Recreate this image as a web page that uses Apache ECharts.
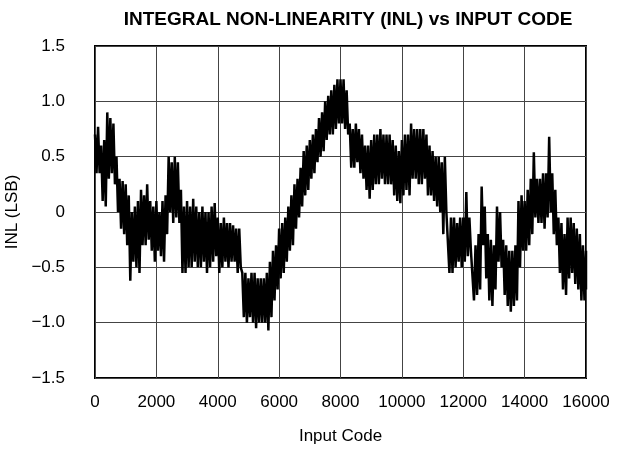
<!DOCTYPE html>
<html>
<head>
<meta charset="utf-8">
<script src="https://cdn.jsdelivr.net/npm/echarts@6/dist/echarts.min.js"></script>
<style>html,body{margin:0;padding:0;background:#fff;}#c{width:626px;height:449px;}</style>
</head>
<body>
<div id="c"></div>
<script>
// Sample grid: input codes 0..16000, step 100
const codeStart = 0, codeStep = 100;
// Upper envelope of the INL trace (LSB), one value per 100 codes
const inlHigh = [
  0.70, 0.77, 0.60, 0.65, 0.90, 0.85, 0.80, 0.50, 0.30, 0.28,
  0.25, 0.15, 0.00, 0.05, 0.10, 0.20, 0.15, 0.25, 0.10, 0.05,
  0.10, 0.00, 0.10, 0.15, 0.50, 0.45, 0.50, 0.45, 0.20, 0.05,
  0.10, 0.05, 0.12, 0.05, 0.00, 0.05, 0.00, 0.00, 0.05, 0.08,
  -0.05, -0.10, -0.05, -0.10, -0.10, -0.12, -0.15, -0.15, -0.55, -0.55,
  -0.60, -0.55, -0.55, -0.60, -0.60, -0.60, -0.55, -0.45, -0.35, -0.30,
  -0.15, -0.10, -0.05, 0.05, 0.15, 0.25, 0.30, 0.40, 0.55, 0.60,
  0.65, 0.70, 0.75, 0.85, 0.90, 1.00, 1.05, 1.10, 1.15, 1.20,
  1.20, 1.20, 1.10, 0.80, 0.75, 0.80, 0.75, 0.70, 0.60, 0.60,
  0.65, 0.70, 0.70, 0.75, 0.70, 0.70, 0.70, 0.65, 0.60, 0.55,
  0.65, 0.70, 0.70, 0.80, 0.75, 0.75, 0.75, 0.75, 0.70, 0.60,
  0.55, 0.50, 0.50, 0.45, 0.50, 0.00, -0.05, -0.05, -0.10, -0.05,
  -0.05, 0.18, -0.05, -0.35, -0.30, -0.20, 0.23, 0.05, -0.20, -0.25,
  -0.30, 0.05, 0.00, -0.25, -0.30, -0.35, -0.35, -0.30, 0.10, 0.15,
  0.10, 0.20, 0.30, 0.54, 0.30, 0.30, 0.35, 0.35, 0.68, 0.35,
  0.20, -0.05, -0.10, -0.20, -0.05, -0.05, -0.10, -0.15, -0.20, -0.30,
  -0.35
];
// Lower envelope of the INL trace (LSB)
const inlLow = [
  0.35, 0.35, 0.10, 0.05, 0.30, 0.35, 0.25, 0.00, -0.15, -0.20,
  -0.30, -0.62, -0.45, -0.50, -0.55, -0.30, -0.30, -0.25, -0.35, -0.45,
  -0.35, -0.40, -0.45, -0.20, 0.00, -0.10, -0.05, -0.10, -0.55, -0.55,
  -0.50, -0.50, -0.45, -0.50, -0.50, -0.45, -0.55, -0.50, -0.45, -0.40,
  -0.55, -0.50, -0.45, -0.50, -0.45, -0.45, -0.55, -0.50, -0.95, -1.00,
  -0.95, -1.00, -1.05, -1.00, -1.00, -1.00, -1.07, -0.95, -0.80, -0.70,
  -0.60, -0.55, -0.45, -0.35, -0.30, -0.15, -0.05, 0.05, 0.15, 0.20,
  0.30, 0.35, 0.45, 0.50, 0.55, 0.65, 0.70, 0.70, 0.75, 0.80,
  0.80, 0.75, 0.70, 0.40, 0.40, 0.45, 0.35, 0.30, 0.20, 0.12,
  0.20, 0.25, 0.25, 0.30, 0.25, 0.25, 0.25, 0.15, 0.10, 0.08,
  0.15, 0.20, 0.15, 0.30, 0.30, 0.25, 0.25, 0.30, 0.15, 0.15,
  0.10, 0.05, 0.00, -0.20, 0.00, -0.55, -0.55, -0.50, -0.45, -0.50,
  -0.45, -0.40, -0.35, -0.80, -0.75, -0.70, -0.30, -0.60, -0.80, -0.85,
  -0.70, -0.45, -0.50, -0.75, -0.85, -0.90, -0.85, -0.80, -0.50, -0.35,
  -0.35, -0.30, -0.20, -0.05, -0.10, -0.10, -0.15, -0.05, 0.00, -0.20,
  -0.30, -0.55, -0.70, -0.75, -0.60, -0.55, -0.65, -0.70, -0.80, -0.80,
  -0.70
];
const xTicks = [0, 2000, 4000, 6000, 8000, 10000, 12000, 14000, 16000];
const yTicks = [-1.5, -1.0, -0.5, 0, 0.5, 1.0, 1.5];

const trace = [];
for (let i = 0; i < inlHigh.length; i++) {
  const c = codeStart + i * codeStep;
  trace.push([c, inlHigh[i]]);
  trace.push([Math.min(c + codeStep / 2, 16000), inlLow[i]]);
}

const FONT = 'Liberation Sans, Arial, sans-serif';
const chart = echarts.init(document.getElementById('c'), null, {renderer: 'canvas'});
chart.setOption({
  animation: false,
  backgroundColor: '#fff',
  title: {
    text: 'INTEGRAL NON-LINEARITY (INL) vs INPUT CODE',
    left: 343, top: 5, textAlign: 'center',
    textStyle: {fontFamily: FONT, fontWeight: 'bold', fontSize: 19, color: '#000'}
  },
  grid: {left: 95, right: 40, top: 46, bottom: 71, show: true, borderColor: '#000', borderWidth: 2, backgroundColor: 'transparent', outerBoundsMode: 'none'},
  xAxis: {
    type: 'value', min: xTicks[0], max: xTicks[xTicks.length - 1], interval: 2000,
    name: 'Input Code', nameLocation: 'middle', nameGap: 50,
    nameTextStyle: {fontFamily: FONT, fontSize: 17, color: '#000'},
    axisLine: {show: false}, axisTick: {show: false},
    axisLabel: {fontFamily: FONT, fontSize: 17, color: '#000', margin: 16,
      formatter: v => String(v)},
    splitLine: {show: true, lineStyle: {color: '#444', width: 1}}
  },
  yAxis: {
    type: 'value', min: yTicks[0], max: yTicks[yTicks.length - 1], interval: 0.5,
    name: 'INL (LSB)', nameLocation: 'middle', nameGap: 68, nameRotate: 90,
    nameTextStyle: {fontFamily: FONT, fontSize: 17, color: '#000'},
    axisLine: {show: false}, axisTick: {show: false},
    axisLabel: {fontFamily: FONT, fontSize: 17, color: '#000', margin: 30,
      formatter: v => v === 0 ? '0' : (v < 0 ? '\u2212' : '') + Math.abs(v).toFixed(1)},
    splitLine: {show: true, lineStyle: {color: '#444', width: 1}}
  },
  series: [{
    type: 'line', data: trace, showSymbol: false, symbol: 'none',
    lineStyle: {color: '#000', width: 2.5}, clip: true, z: 3
  }]
});
</script>
</body>
</html>
